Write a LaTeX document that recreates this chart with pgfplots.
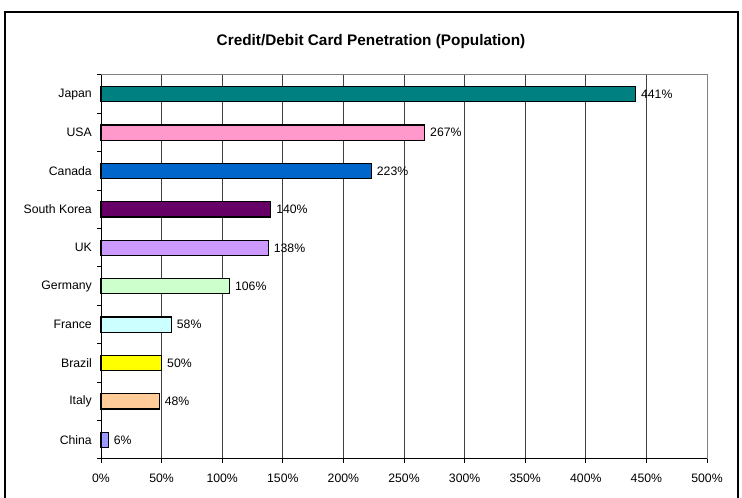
\documentclass[border=0pt]{standalone}
\usepackage{pgfplots}
\pgfplotsset{compat=1.18}
\usepackage{fontspec}
\setmainfont{Liberation Sans}

\definecolor{cjapan}{HTML}{008080}
\definecolor{cusa}{HTML}{FF99CC}
\definecolor{ccanada}{HTML}{0066CC}
\definecolor{ckorea}{HTML}{660066}
\definecolor{cuk}{HTML}{CC99FF}
\definecolor{cgermany}{HTML}{CCFFCC}
\definecolor{cfrance}{HTML}{CCFFFF}
\definecolor{cbrazil}{HTML}{FFFF00}
\definecolor{citaly}{HTML}{FFCC99}
\definecolor{cchina}{HTML}{9999FF}

\begin{document}
\begin{tikzpicture}[x=1bp,y=1bp]
\useasboundingbox (0,0) rectangle (742,498);
% outer chart frame (bottom edge falls off the page)
\draw[line width=1.5bp] (5,-10) -- (5,486) -- (738,486) -- (738,-10);
\node[font=\fontsize{15.4}{18}\selectfont\bfseries] at (371,456) {Credit/Debit Card Penetration (Population)};

\begin{axis}[
  at={(101bp,39bp)}, anchor=south west,
  scale only axis, width=606bp, height=384bp,
  xbar, bar shift=0pt, bar width=0.4,
  xmin=0, xmax=500,
  ymin=-0.5, ymax=9.5,
  axis x line*=bottom, axis y line*=left,
  axis line style={-, line width=1bp, black},
  xtick={0,50,...,500},
  xticklabels={0\%,50\%,100\%,150\%,200\%,250\%,300\%,350\%,400\%,450\%,500\%},
  ytick={0,1,...,9},
  yticklabels={China,Italy,Brazil,France,Germany,UK,South Korea,Canada,USA,Japan},
  minor ytick={-0.5,0.5,...,9.5},
  tick align=outside,
  major tick length=4bp, minor tick length=4bp,
  every major y tick/.append style={draw=none},
  every minor y tick/.append style={black, line width=1bp},
  xtick style={black, line width=1bp},
  xmajorgrids, grid style={black!75, line width=0.8bp},
  tick label style={font=\fontsize{12.3}{14}\selectfont},
  xticklabel style={inner sep=0pt, anchor=north, yshift=-11bp},
  yticklabel style={inner sep=0pt, anchor=east, xshift=-5bp},
  nodes near coords={\pgfmathprintnumber[assume math mode=true]{\pgfplotspointmeta}\%},
  nodes near coords style={anchor=west, inner sep=0pt, xshift=5bp, font=\fontsize{12.3}{14}\selectfont, text=black},
  every axis plot/.append style={draw=black, line width=1.2bp},
  clip=false,
]
\addplot[fill=cjapan] coordinates {(441,9)};
\addplot[fill=cusa] coordinates {(267,8)};
\addplot[fill=ccanada] coordinates {(223,7)};
\addplot[fill=ckorea] coordinates {(140,6)};
\addplot[fill=cuk] coordinates {(138,5)};
\addplot[fill=cgermany] coordinates {(106,4)};
\addplot[fill=cfrance] coordinates {(58,3)};
\addplot[fill=cbrazil] coordinates {(50,2)};
\addplot[fill=citaly] coordinates {(48,1)};
\addplot[fill=cchina] coordinates {(6,0)};
\draw[black!50, line width=1bp] (rel axis cs:0,1) -- (rel axis cs:1,1) -- (rel axis cs:1,0);
\end{axis}
\end{tikzpicture}
\end{document}
